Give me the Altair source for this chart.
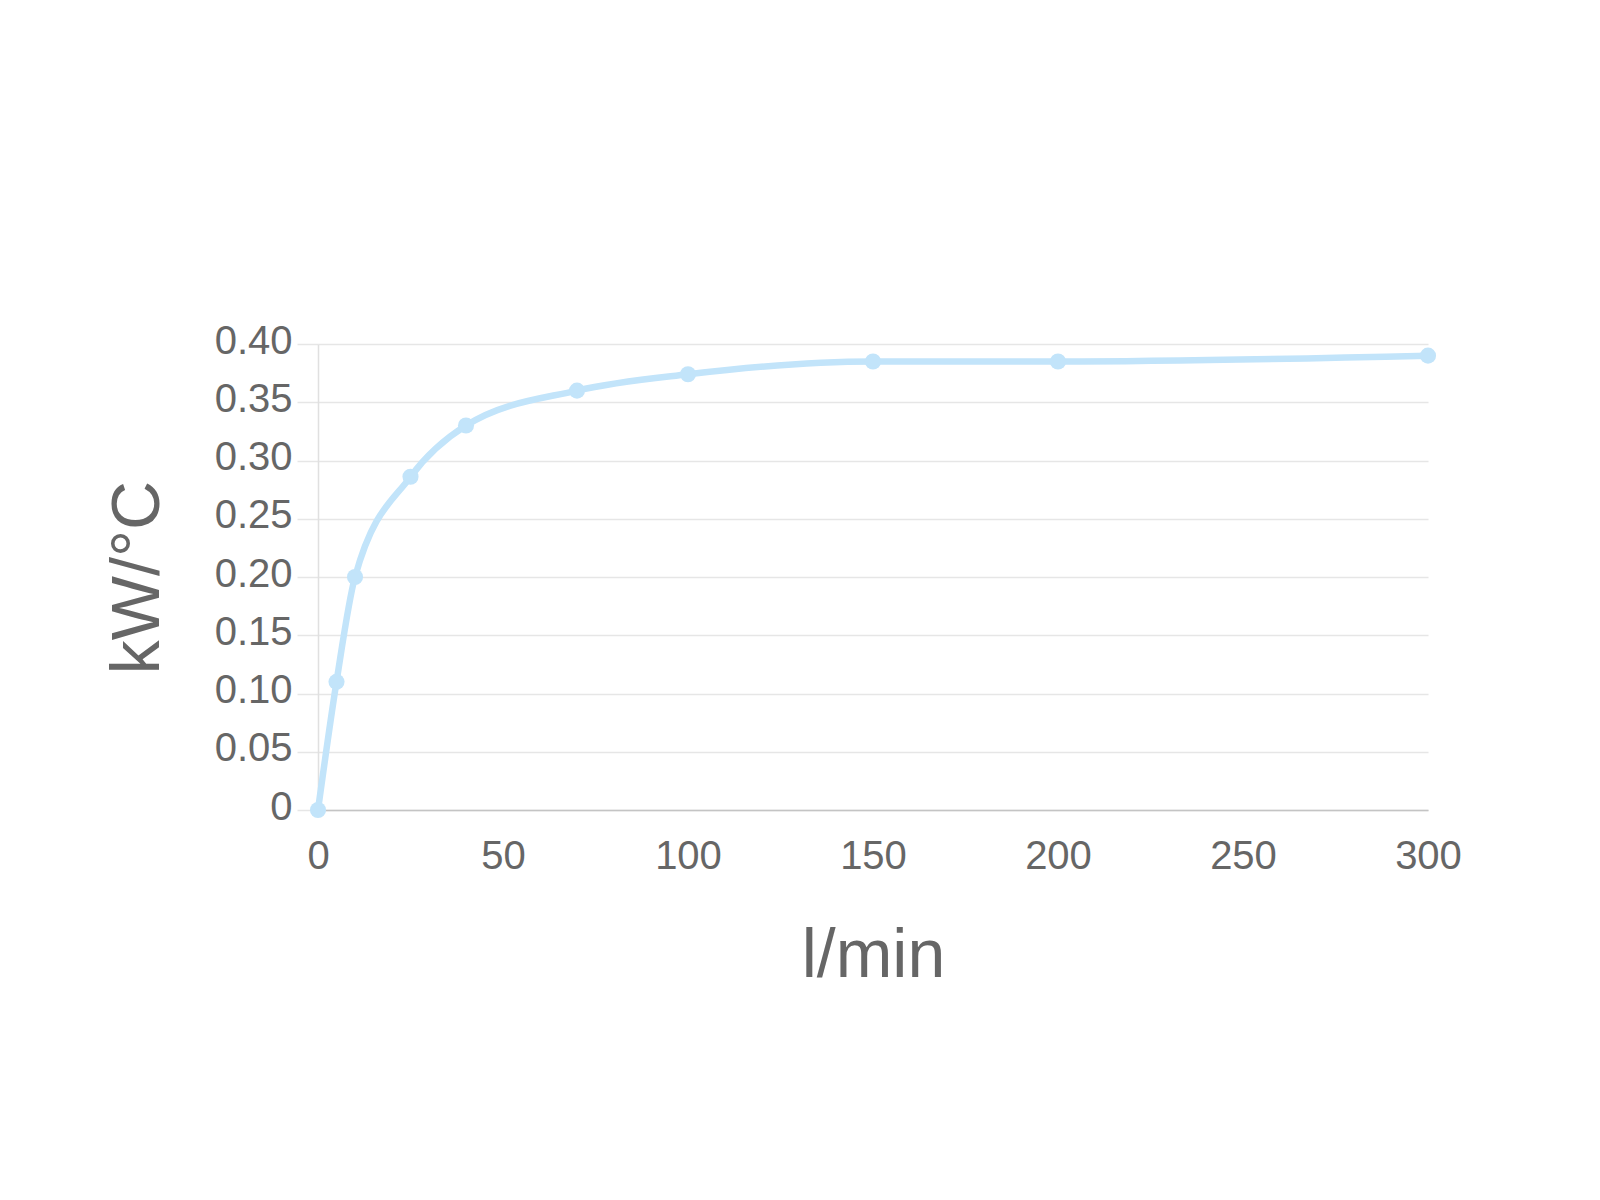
import altair as alt
import pandas as pd

flow = [0, 5, 10, 25, 40, 70, 100, 150, 200, 300]
kw_per_c = [0, 0.11, 0.20, 0.286, 0.330, 0.360, 0.374, 0.385, 0.385, 0.390]

df = pd.DataFrame({"flow": flow, "kw": kw_per_c})

FONT = "Liberation Sans"
COLOR = "#c2e4fa"

x = alt.X("flow:Q", title="l/min",
          scale=alt.Scale(domain=[0, 300], nice=False),
          axis=alt.Axis(values=[0, 50, 100, 150, 200, 250, 300], grid=False,
                        ticks=False, domainColor="#c4c4c4", domainWidth=1.5,
                        labelFlush=False,
                        labelFontSize=40, labelColor="#666666", labelFont=FONT,
                        labelPadding=26, titleFontSize=68, titleColor="#666666",
                        titleFont=FONT, titleFontWeight="normal", titlePadding=46))
y = alt.Y("kw:Q", title="kW/°C",
          scale=alt.Scale(domain=[0, 0.4], nice=False),
          axis=alt.Axis(values=[0, 0.05, 0.1, 0.15, 0.2, 0.25, 0.3, 0.35, 0.4],
                        labelExpr="datum.value == 0 ? '0' : format(datum.value, '.2f')",
                        gridColor="#e6e6e6", gridWidth=1.5, tickColor="#e6e6e6",
                        tickSize=21, tickWidth=1.5, domainColor="#e0e0e0", domainWidth=1.5,
                        labelFontSize=40, labelColor="#666666", labelFont=FONT,
                        labelPadding=5, labelOffset=-3, titleFontSize=68, titleColor="#666666",
                        titleFont=FONT, titleFontWeight="normal", titlePadding=42))

line = alt.Chart(df).mark_line(color=COLOR, strokeWidth=6.5, interpolate="monotone").encode(x=x, y=y)
pts = alt.Chart(df).mark_point(filled=True, color=COLOR, opacity=1, size=260).encode(x=x, y=y)

chart = (line + pts).properties(
    width=1110, height=466,
    autosize=alt.AutoSizeParams(type="none"),
    padding={"left": 310, "top": 336, "right": 150, "bottom": 330},
).configure_view(stroke=None)

chart.save("out.html", embed_options={"renderer": "svg", "actions": False})
